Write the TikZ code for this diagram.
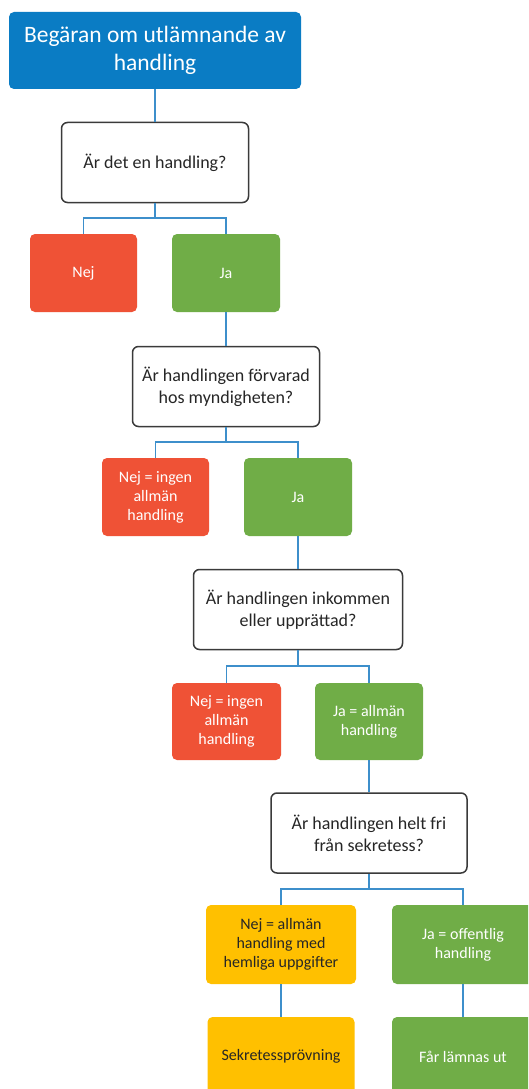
\documentclass[tikz,border=0pt]{standalone}
\usepackage{fontspec}
\setmainfont{Carlito}
\definecolor{topblue}{HTML}{0A7CC4}
\definecolor{nejred}{HTML}{EF5236}
\definecolor{jagreen}{HTML}{70AD47}
\definecolor{gold}{HTML}{FFC000}
\definecolor{linkblue}{HTML}{3D8FCB}
\definecolor{qborder}{HTML}{3A3A3A}
\begin{document}
\begin{tikzpicture}[x=1pt,y=-1pt,
  base/.style={rounded corners=5pt, align=center, inner sep=2pt},
  topbox/.style={base, fill=topblue, text=white, font=\fontsize{23.5}{28}\selectfont, minimum width=292pt, minimum height=77pt},
  qbox/.style={base, draw=qborder, line width=1.5pt, fill=white, text=black!85, font=\fontsize{18}{22}\selectfont, minimum height=80pt, rounded corners=6pt},
  nbox/.style={base, fill=nejred, text=white, font=\fontsize{16}{19}\selectfont, minimum width=107pt, minimum height=78pt},
  jbox/.style={base, fill=jagreen, text=white, font=\fontsize{16}{19}\selectfont, minimum width=108pt, minimum height=78pt},
  gbox/.style={base, fill=gold, text=black!85, font=\fontsize{16}{19}\selectfont, minimum width=150pt, minimum height=79pt},
  link/.style={draw=linkblue, line width=1.6pt}]
\clip (0,0) rectangle (528,1089);
\fill[white] (0,0) rectangle (528,1089);

\node[topbox] (top) at (155,50.5) {Begäran om utlämnande av\\handling};
\node[qbox, minimum width=187pt] (q1) at (155,162.5) {Är det en handling?};
\node[nbox] (n1) at (83.5,273) {Nej};
\node[jbox] (j1) at (226,273) {Ja};
\node[qbox, minimum width=187pt] (q2) at (226,386.5) {Är handlingen förvarad\\hos myndigheten?};
\node[nbox] (n2) at (155.5,497) {Nej = ingen\\allmän\\handling};
\node[jbox] (j2) at (298,497) {Ja};
\node[qbox, minimum width=209pt] (q3) at (298,609.5) {Är handlingen inkommen\\eller upprättad?};
\node[nbox, minimum height=77pt, minimum width=109pt] (n3) at (226.5,721.5) {Nej = ingen\\allmän\\handling};
\node[jbox, minimum height=77pt] (j3) at (369,721.5) {Ja = allmän\\handling};
\node[qbox, minimum width=196pt] (q4) at (369,833) {Är handlingen helt fri\\från sekretess?};
\node[gbox] (n4) at (281,944.5) {Nej = allmän\\handling med\\hemliga uppgifter};
\node[jbox, minimum width=142pt, minimum height=79pt] (j4) at (463,944.5) {Ja = offentlig\\handling};
\node[gbox, minimum width=147pt] (s5) at (281,1056.5) {Sekretessprövning};
\node[jbox, minimum width=142pt, minimum height=79pt] (f5) at (463,1056.5) {Får lämnas ut};

\draw[link] (top.south) -- (q1.north);
\draw[link] (q1.south) -- ++(0,15) -| (n1.north);
\draw[link] (q1.south) -- ++(0,15) -| (j1.north);
\draw[link] (j1.south) -- (q2.north);
\draw[link] (q2.south) -- ++(0,15) -| (n2.north);
\draw[link] (q2.south) -- ++(0,15) -| (j2.north);
\draw[link] (j2.south) -- (q3.north);
\draw[link] (q3.south) -- ++(0,16) -| (n3.north);
\draw[link] (q3.south) -- ++(0,16) -| (j3.north);
\draw[link] (j3.south) -- (q4.north);
\draw[link] (q4.south) -- ++(0,15) -| (n4.north);
\draw[link] (q4.south) -- ++(0,15) -| (j4.north);
\draw[link] (n4.south) -- (s5.north);
\draw[link] (j4.south) -- (f5.north);
\end{tikzpicture}
\end{document}
